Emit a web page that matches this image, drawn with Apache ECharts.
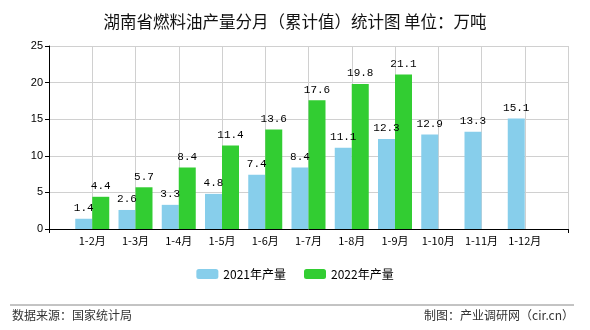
<!DOCTYPE html>
<html><head><meta charset="utf-8">
<script src="https://cdn.jsdelivr.net/npm/echarts@6/dist/echarts.min.js"></script>
<style>html,body{margin:0;padding:0;background:#fff}#c{width:590px;height:330px}</style>
</head><body><div id="c"></div>
<script>
const categories = ['', '1-2月', '1-3月', '1-4月', '1-5月', '1-6月', '1-7月', '1-8月', '1-9月', '1-10月', '1-11月', '1-12月', ''];
const values2021 = [null, 1.4, 2.6, 3.3, 4.8, 7.4, 8.4, 11.1, 12.3, 12.9, 13.3, 15.1, null];
const values2022 = [null, 4.4, 5.7, 8.4, 11.4, 13.6, 17.6, 19.8, 21.1, null, null, null, null];
const yTicks = [0, 5, 10, 15, 20, 25];
const titleText = '湖南省燃料油产量分月（累计值）统计图 单位：万吨';
const seriesNames = ['2021年产量', '2022年产量'];

const chart = echarts.init(document.getElementById('c'), null, {renderer: 'canvas'});
const lbl = {show: true, position: 'top', distance: 5, color: '#000', fontFamily: 'Liberation Mono', fontSize: 11,
  formatter: p => p.value == null ? '' : p.value.toFixed(1)};
chart.setOption({
  animation: false,
  backgroundColor: '#fff',
  title: {text: titleText, left: 'center', top: 8,
    textStyle: {fontFamily: 'Noto Sans CJK SC', fontSize: 16.5, fontWeight: 'normal', color: '#111'}},
  legend: {bottom: 45, left: 'center', itemWidth: 22, itemHeight: 10, itemGap: 18,
    textStyle: {fontFamily: 'Noto Sans CJK SC', fontSize: 12, color: '#000'},
    data: seriesNames},
  grid: {left: 49, right: 22, top: 46, bottom: 101, containLabel: false},
  xAxis: {type: 'category', data: categories, boundaryGap: false,
    axisLine: {lineStyle: {color: '#000', width: 1}},
    axisTick: {show: true, length: 4, interval: (i) => i === 0 || i === categories.length - 1, lineStyle: {color: '#000'}},
    axisLabel: {color: '#000', fontFamily: 'Noto Sans CJK SC', fontSize: 11, margin: 6, interval: 0},
    splitLine: {show: true, lineStyle: {color: '#d0d0d0', width: 1}}},
  yAxis: {type: 'value', min: yTicks[0], max: yTicks[yTicks.length - 1], interval: 5,
    axisLine: {show: true, lineStyle: {color: '#000', width: 1}},
    axisTick: {show: true, length: 4, lineStyle: {color: '#000'}},
    axisLabel: {color: '#000', fontFamily: 'Liberation Sans', fontSize: 11, margin: 6},
    splitLine: {show: true, lineStyle: {color: '#d0d0d0', width: 1}}},
  series: [
    {name: seriesNames[0], type: 'bar', data: values2021, barWidth: 17, barGap: '0%',
      itemStyle: {color: '#87CEEB'}, label: lbl},
    {name: seriesNames[1], type: 'bar', data: values2022, barWidth: 17, barGap: '0%',
      itemStyle: {color: '#32CD32'}, label: lbl}
  ],
  graphic: [
    {type: 'line', shape: {x1: 10, y1: 305, x2: 574, y2: 305}, style: {stroke: '#888', lineWidth: 1}},
    {type: 'text', left: 12, top: 309, style: {text: '数据来源：国家统计局', fill: '#333', font: '12px "Noto Sans CJK SC"'}},
    {type: 'text', right: 16, top: 309, style: {text: '制图：产业调研网（cir.cn）', fill: '#333', font: '12px "Noto Sans CJK SC"'}}
  ]
});
</script></body></html>
